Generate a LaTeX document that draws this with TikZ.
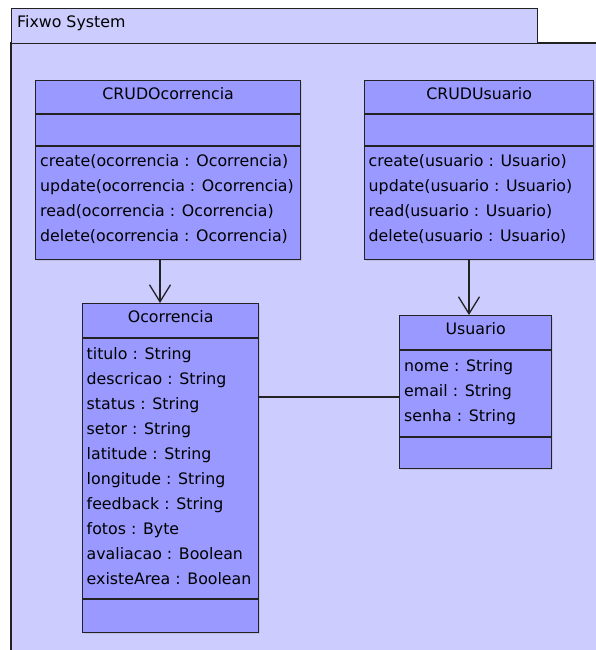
\documentclass[tikz,border=0pt]{standalone}
\usepackage{fontspec}
\setmainfont{DejaVu Sans}
\usetikzlibrary{arrows.meta, positioning, shadows}
\definecolor{pkgfill}{HTML}{CCCCFF}
\definecolor{classfill}{HTML}{9999FF}
\definecolor{umlline}{HTML}{222222}
\tikzset{
    classbox/.style={
        draw=umlline,
        line width=1.3pt,
        fill=classfill,
        anchor=north west,
        inner sep=0pt,
        drop shadow={shadow xshift=1.5pt, shadow yshift=-1.5pt, opacity=0.2}
    },
    pkgtab/.style={
        draw=umlline,
        line width=1.3pt,
        fill=pkgfill,
        anchor=north west,
        inner sep=0pt
    },
    classname/.style={anchor=base, inner sep=0pt},
    member/.style={anchor=base west, inner sep=0pt},
    divider/.style={draw=umlline, line width=1.3pt},
    line/.style={draw=umlline, line width=1.3pt},
    depline/.style={-{Straight Barb[length=17pt, width=21pt]}, draw=umlline, line width=1.3pt},
    every node/.style={font=\fontsize{15.8}{19}\selectfont}
}

\begin{document}
\begin{tikzpicture}[x=1pt, y=-1pt]
\useasboundingbox (0,0) rectangle (596,650);

% package frame
\fill[pkgfill] (11,43) rectangle (596,650);
\draw[line] (11,650) -- (11,43) -- (596,43);
\node[pkgtab, minimum width=526pt, minimum height=35pt] (systab) at (11,8) {};
\node[member] (systitle) at (17,28) {Fixwo System};

% classes
\node[classbox, minimum width=265pt, minimum height=179pt] (crudocor) at (35,80) {};
\node[classbox, minimum width=229pt, minimum height=179pt] (crudusr) at (364,80) {};
\node[classbox, minimum width=176pt, minimum height=329pt] (ocorrencia) at (82,303) {};
\node[classbox, minimum width=152pt, minimum height=153pt] (usuario) at (399,315) {};

\foreach \cls/\y in {crudocor/114, crudocor/146, crudusr/114, crudusr/146,
                     ocorrencia/338, ocorrencia/599, usuario/350, usuario/437}
    \draw[divider] (\cls.west |- 0,\y) -- (\cls.east |- 0,\y);

\node[classname] (crudocor-name) at (crudocor.north |- 0,100) {CRUDOcorrencia};
\node[classname] (crudusr-name) at (crudusr.north |- 0,100) {CRUDUsuario};
\node[classname] (ocorrencia-name) at (ocorrencia.north |- 0,322) {Ocorrencia};
\node[classname] (usuario-name) at (usuario.north |- 0,334) {Usuario};

\foreach \txt [count=\i] in {create(ocorrencia : Ocorrencia), update(ocorrencia : Ocorrencia),
                             read(ocorrencia : Ocorrencia), delete(ocorrencia : Ocorrencia)}
    \node[member] (crudocor-op\i) at (40,{141+25*\i}) {\txt};

\foreach \txt [count=\i] in {create(usuario : Usuario), update(usuario : Usuario),
                             read(usuario : Usuario), delete(usuario : Usuario)}
    \node[member] (crudusr-op\i) at (368.5,{141+25*\i}) {\txt};

\foreach \txt [count=\i] in {titulo : String, descricao : String, status : String,
                             setor : String, latitude : String, longitude : String,
                             feedback : String, fotos : Byte, avaliacao : Boolean,
                             existeArea : Boolean}
    \node[member] (ocorrencia-attr\i) at (86.5,{334+25*\i}) {\txt};

\foreach \txt [count=\i] in {nome : String, email : String, senha : String}
    \node[member] (usuario-attr\i) at (404,{346+25*\i}) {\txt};

% connectors
\coordinate (ocor-in) at (160,0);
\coordinate (usr-in) at (469,0);
\coordinate (assoc) at (0,397);
\draw[depline] (crudocor.south -| ocor-in) -- (ocorrencia.north -| ocor-in);
\draw[depline] (crudusr.south -| usr-in) -- (usuario.north -| usr-in);
\draw[line] (ocorrencia.east |- assoc) -- (usuario.west |- assoc);
\end{tikzpicture}
\end{document}
